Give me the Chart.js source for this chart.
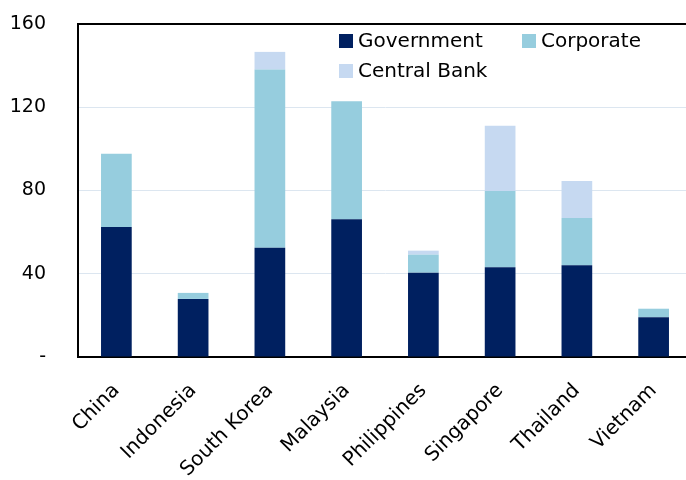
<!DOCTYPE html>
<html>
<head>
<meta charset="utf-8">
<script src="https://cdn.jsdelivr.net/npm/chart.js@4/dist/chart.umd.min.js"></script>
<style>
  html, body { margin: 0; padding: 0; background: #fff; overflow: hidden; }
  #wrap { width: 694px; height: 480px; }
</style>
</head>
<body>
<div id="wrap"><canvas id="canvas"></canvas></div>
<script>
let paises = ['China', 'Indonesia', 'South Korea', 'Malaysia', 'Philippines', 'Singapore', 'Thailand', 'Vietnam'];
let governo = [62.5, 27.9, 52.5, 66.2, 40.5, 43.1, 44.1, 19.1];
let corporativo = [35.2, 2.9, 85.6, 56.7, 8.7, 36.7, 22.7, 4.1];
let banco_central = [0, 0, 8.5, 0, 1.9, 31.3, 17.8, 0];
let ticks_y = [0, 40, 80, 120, 160];

let fonte = 'DejaVu Sans';

// legenda desenhada dentro da area do grafico, em duas colunas
let legendaInterna = {
  id: 'legendaInterna',
  afterDraw: function(chart) {
    let ctx = chart.ctx;
    let area = chart.chartArea;
    let pos = [
      [area.left + 261, area.top + 17],
      [area.left + 444, area.top + 17],
      [area.left + 261, area.top + 47]
    ];
    ctx.save();
    ctx.font = '20px "' + fonte + '"';
    ctx.textBaseline = 'middle';
    chart.data.datasets.forEach(function(ds, i) {
      let p = pos[i];
      ctx.fillStyle = ds.backgroundColor;
      ctx.fillRect(p[0], p[1] - 7, 14, 14);
      ctx.fillStyle = '#000';
      ctx.fillText(ds.label, p[0] + 19, p[1] + 1);
    });
    ctx.restore();
  }
};

let configuracao = {
  type: 'bar',
  data: {
    labels: paises,
    datasets: [{
      label: 'Government',
      data: governo,
      backgroundColor: '#002060',
      barPercentage: 0.4,
      categoryPercentage: 1
    }, {
      label: 'Corporate',
      data: corporativo,
      backgroundColor: '#96CDDE',
      barPercentage: 0.4,
      categoryPercentage: 1
    }, {
      label: 'Central Bank',
      data: banco_central,
      backgroundColor: '#C6D9F1',
      barPercentage: 0.4,
      categoryPercentage: 1
    }]
  },
  options: {
    responsive: true,
    maintainAspectRatio: false,
    animation: false,
    layout: { padding: { top: 24, right: 2, left: 0, bottom: 0 } },
    plugins: {
      legend: { display: false },
      tooltip: { enabled: false }
    },
    scales: {
      x: {
        stacked: true,
        grid: { display: false, drawTicks: false },
        border: { color: '#000', width: 2 },
        ticks: {
          color: '#000',
          font: { family: fonte, size: 20 },
          minRotation: 45,
          maxRotation: 45,
          padding: 22
        },
        afterFit: function(scale) { scale.height = 123; }
      },
      y: {
        stacked: true,
        min: 0,
        max: 160,
        afterBuildTicks: function(scale) {
          scale.ticks = ticks_y.map(function(v) { return { value: v }; });
        },
        grid: {
          drawTicks: false,
          color: function(c) { return c.tick && c.tick.value === 160 ? '#000' : '#DCE6F0'; },
          lineWidth: function(c) { return c.tick && c.tick.value === 160 ? 2 : 1; }
        },
        border: { color: '#000', width: 2 },
        ticks: {
          color: '#000',
          font: { family: fonte, size: 19 },
          padding: 32,
          callback: function(v) { return v === 0 ? '-' : v; }
        },
        afterFit: function(scale) {
          scale.width = 78;
          scale.paddingTop = 0;
          scale.paddingBottom = 0;
        }
      }
    }
  },
  plugins: [legendaInterna]
};

let chart = new Chart(document.getElementById('canvas'), configuracao);
</script>
</body>
</html>
